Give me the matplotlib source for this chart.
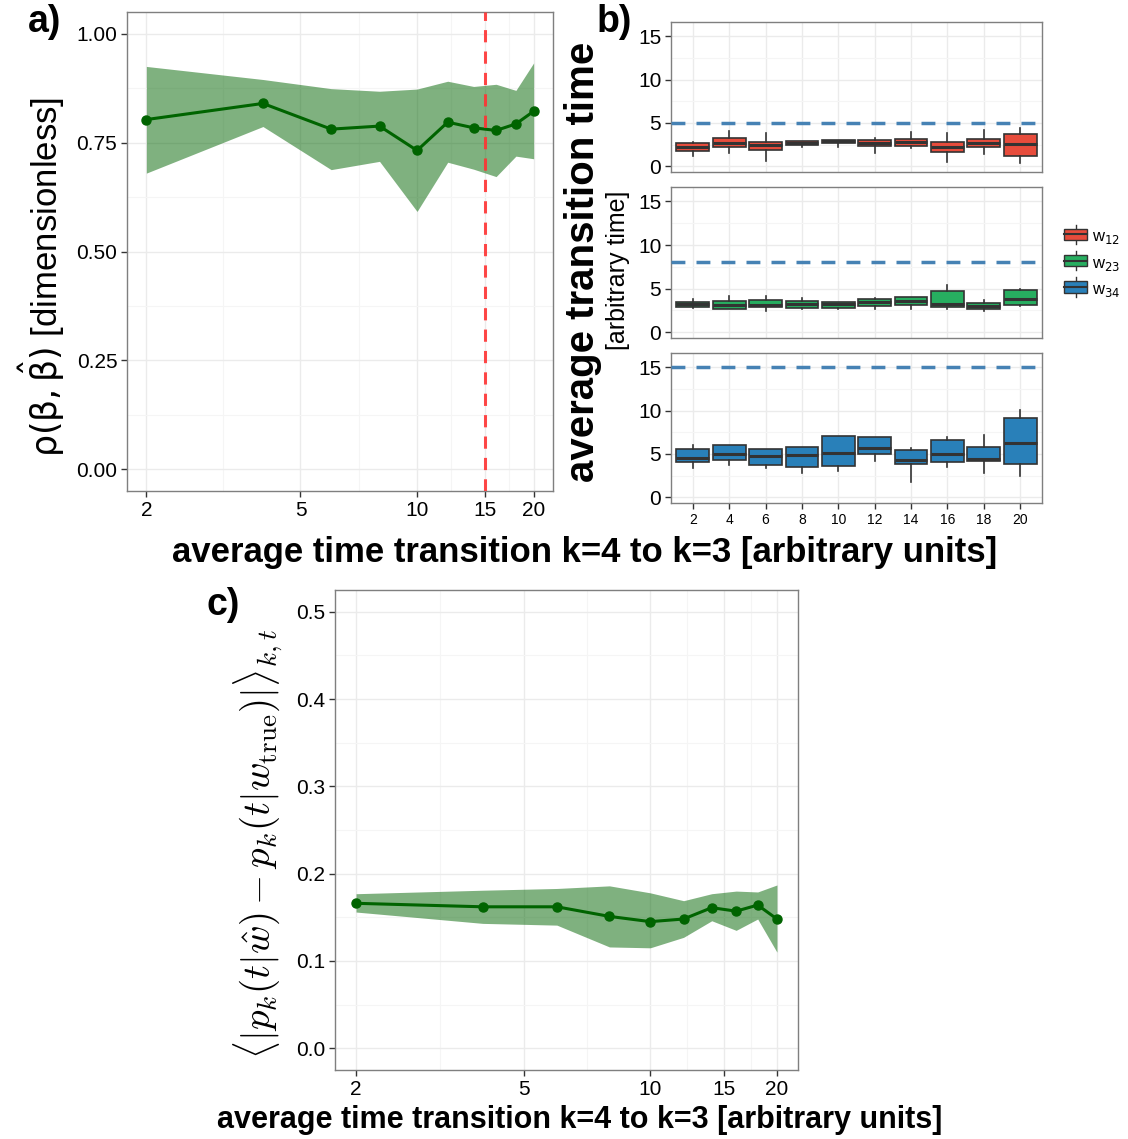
import numpy as np
import matplotlib
matplotlib.use("Agg")
import matplotlib.pyplot as plt
from matplotlib.patches import Rectangle
from matplotlib.lines import Line2D
from matplotlib.legend_handler import HandlerBase
from matplotlib.ticker import FixedLocator, NullFormatter

plt.rcParams['font.family'] = ['Liberation Sans', 'DejaVu Sans']

# ---- data ----
x = [2, 4, 6, 8, 10, 12, 14, 16, 18, 20]

# panel a: correlation rho(beta, beta_hat)
rho_mean = [0.803, 0.840, 0.781, 0.788, 0.732, 0.797, 0.784, 0.778, 0.793, 0.822]
rho_upper = [0.925, 0.895, 0.874, 0.868, 0.873, 0.891, 0.879, 0.884, 0.870, 0.933]
rho_lower = [0.680, 0.787, 0.688, 0.707, 0.592, 0.705, 0.689, 0.672, 0.719, 0.713]
vline_x = 15

# panel b: boxplots per transition (whisker low, q1, median, q3, whisker high)
w12_wlo = [1.17, 1.56, 0.63, 2.27, 2.27, 1.56, 2.15, 0.51, 1.41, 0.39]
w12_q1 = [1.80, 2.19, 1.88, 2.46, 2.66, 2.34, 2.34, 1.64, 2.27, 1.21]
w12_med = [2.19, 2.66, 2.46, 2.70, 2.89, 2.73, 2.81, 2.27, 2.73, 2.62]
w12_q3 = [2.73, 3.32, 2.85, 2.89, 3.09, 3.05, 3.13, 2.85, 3.16, 3.71]
w12_whi = [2.85, 4.10, 3.83, 2.90, 3.09, 3.24, 3.98, 3.83, 4.14, 4.41]

w23_wlo = [2.82, 2.70, 2.47, 2.63, 2.63, 2.70, 2.70, 2.63, 2.47, 2.97]
w23_q1 = [2.94, 2.70, 2.94, 2.78, 2.78, 3.01, 3.17, 2.90, 2.66, 3.13]
w23_med = [3.21, 3.09, 3.09, 3.21, 3.21, 3.48, 3.63, 3.24, 3.01, 3.78]
w23_q3 = [3.48, 3.59, 3.75, 3.55, 3.51, 3.86, 4.02, 4.71, 3.40, 4.86]
w23_whi = [3.86, 4.21, 4.21, 3.94, 3.51, 3.94, 4.02, 5.41, 3.75, 4.94]

w34_wlo = [3.33, 3.68, 3.33, 2.75, 3.06, 4.15, 1.71, 3.45, 2.75, 2.48]
w34_q1 = [4.03, 4.34, 3.76, 3.49, 3.57, 5.00, 3.80, 4.07, 4.22, 3.84]
w34_med = [4.57, 5.00, 4.81, 4.88, 5.08, 5.70, 4.34, 5.04, 4.46, 6.24]
w34_q3 = [5.54, 6.04, 5.62, 5.85, 7.02, 6.90, 5.43, 6.63, 5.85, 9.11]
w34_whi = [6.04, 6.04, 5.62, 5.85, 7.02, 6.90, 5.66, 6.94, 7.21, 10.08]

true_times = [5, 8, 15]
trans_labels = ["w$_{12}$", "w$_{23}$", "w$_{34}$"]
trans_colors = ["#E74C3C", "#27AE60", "#2980B9"]

# panel c: mean abs difference of p_k(t)
d_mean = [0.166, 0.162, 0.162, 0.151, 0.145, 0.148, 0.161, 0.157, 0.164, 0.148]
d_upper = [0.177, 0.181, 0.183, 0.186, 0.178, 0.169, 0.177, 0.180, 0.179, 0.187]
d_lower = [0.156, 0.143, 0.141, 0.116, 0.115, 0.127, 0.146, 0.135, 0.148, 0.110]

# ---- style helpers ----
GRID = "#EBEBEB"
GRID_MINOR = "#F5F5F5"
BORDER = "#7F7F7F"
TICK_FS = 15


def style_axes(ax):
    for s in ax.spines.values():
        s.set_color(BORDER)
        s.set_linewidth(1.0)
    ax.grid(True, which="major", color=GRID, lw=1.0, zorder=0)
    ax.grid(True, which="minor", color=GRID_MINOR, lw=0.8, zorder=0)
    ax.set_axisbelow(True)
    ax.tick_params(which="major", length=4, width=1, color="#333333",
                   labelsize=TICK_FS, labelcolor="black", pad=3)
    ax.tick_params(which="minor", length=0)


def log_x(ax):
    ax.set_xscale("log")
    ax.set_xlim(10 ** (np.log10(2) - 0.05), 10 ** (np.log10(20) + 0.05))
    ax.xaxis.set_major_locator(FixedLocator([2, 5, 10, 15, 20]))
    ax.set_xticklabels(["2", "5", "10", "15", "20"])
    ax.xaxis.set_minor_locator(FixedLocator([np.sqrt(10), np.sqrt(50), np.sqrt(150), np.sqrt(300)]))
    ax.xaxis.set_minor_formatter(NullFormatter())


fig = plt.figure(figsize=(11.28, 11.39), dpi=100)
W, H = 1128, 1139


def px_axes(l, t, r, b):
    return fig.add_axes([l / W, 1 - b / H, (r - l) / W, (b - t) / H])


# ---- panel a ----
ax = px_axes(127, 12, 553, 491)
style_axes(ax)
log_x(ax)
ax.fill_between(x, rho_lower, rho_upper, color="#006400", alpha=0.5, lw=0, zorder=2)
ax.plot(x, rho_mean, color="#006400", lw=2.2, marker="o", ms=6.5, zorder=3)
ax.axvline(vline_x, color="#FF3333", lw=2.2, ls=(0, (4, 3)), alpha=0.9, zorder=4)
ax.set_ylim(-0.05, 1.05)
ax.set_yticks([0, 0.25, 0.5, 0.75, 1.0])
ax.set_yticklabels(["0.00", "0.25", "0.50", "0.75", "1.00"])
ax.yaxis.set_minor_locator(FixedLocator([0.125, 0.375, 0.625, 0.875]))
ax.set_ylabel(r"$\mathrm{\rho(\beta,\hat{\beta})}$ [dimensionless]", fontsize=25,
              math_fontfamily="dejavusans")
ax.yaxis.set_label_coords(-0.14, 0.447)
fig.text(28 / W, 1 - 22 / H, "a)", fontsize=27, fontweight="bold", ha="left", va="center")

# ---- panel b ----
groups = [
    (w12_wlo, w12_q1, w12_med, w12_q3, w12_whi),
    (w23_wlo, w23_q1, w23_med, w23_q3, w23_whi),
    (w34_wlo, w34_q1, w34_med, w34_q3, w34_whi),
]
facet_px = [(22, 172), (187, 338), (353, 503)]
pos = np.arange(1, len(x) + 1)
for i, (g, (t, b)) in enumerate(zip(groups, facet_px)):
    axb = px_axes(671, t, 1042, b)
    style_axes(axb)
    stats = []
    for j in range(len(x)):
        stats.append(dict(whislo=g[0][j], q1=g[1][j], med=g[2][j], q3=g[3][j],
                          whishi=g[4][j], fliers=[]))
    axb.bxp(stats, positions=pos, widths=0.9, patch_artist=True, showcaps=False,
            boxprops=dict(facecolor=trans_colors[i], edgecolor="#333333", lw=1.2),
            medianprops=dict(color="#333333", lw=2.2),
            whiskerprops=dict(color="#333333", lw=1.2), zorder=3)
    axb.axhline(true_times[i], color="#4682B4", lw=2.5, ls=(0, (4, 3.2)), zorder=4)
    axb.set_xlim(0.4, 10.6)
    axb.set_ylim(-0.66, 16.65)
    axb.set_yticks([0, 5, 10, 15])
    axb.yaxis.set_minor_locator(FixedLocator([2.5, 7.5, 12.5]))
    axb.set_xticks(pos)
    if i == 2:
        axb.set_xticklabels([str(v) for v in x], fontsize=10)
    else:
        axb.tick_params(axis="x", length=0, labelbottom=False)

fig.text(583 / W, 1 - 262 / H, "average transition time", fontsize=29, fontweight="bold",
         rotation=90, ha="center", va="center")
fig.text(618 / W, 1 - 270 / H, "[arbitrary time]", fontsize=18, rotation=90,
         ha="center", va="center")
fig.text(597 / W, 1 - 22 / H, "b)", fontsize=27, fontweight="bold", ha="left", va="center")


class BoxKey(HandlerBase):
    def create_artists(self, legend, orig, xd, yd, width, height, fontsize, trans):
        c = orig.get_facecolor()
        r = Rectangle((xd, yd + height * 0.05), width, height * 0.9, facecolor=c,
                      edgecolor="#333333", lw=1.0, transform=trans)
        m = Line2D([xd, xd + width], [yd + height * 0.5] * 2, color="#333333", lw=1.5,
                   transform=trans)
        w1 = Line2D([xd + width / 2] * 2, [yd + height * 0.95, yd + height * 1.25],
                    color="#333333", lw=1.0, transform=trans)
        w2 = Line2D([xd + width / 2] * 2, [yd - height * 0.25, yd + height * 0.05],
                    color="#333333", lw=1.0, transform=trans)
        return [w1, w2, r, m]


handles = [Rectangle((0, 0), 1, 1, facecolor=c) for c in trans_colors]
fig.legend(handles, trans_labels, handler_map={Rectangle: BoxKey()},
           loc="center left", bbox_to_anchor=(1064 / W, 1 - 264 / H), frameon=False,
           fontsize=12, handlelength=1.4, handleheight=0.8, handletextpad=0.3,
           labelspacing=0.55, borderaxespad=0, borderpad=0)

fig.text(585 / W, 1 - 553 / H, "average time transition k=4 to k=3 [arbitrary units]",
         fontsize=25, fontweight="bold", ha="center", va="center")

# ---- panel c ----
axc = px_axes(335, 590, 798, 1070)
style_axes(axc)
log_x(axc)
axc.fill_between(x, d_lower, d_upper, color="#006400", alpha=0.5, lw=0, zorder=2)
axc.plot(x, d_mean, color="#006400", lw=2.2, marker="o", ms=6.5, zorder=3)
axc.set_ylim(-0.025, 0.525)
axc.set_yticks([0, 0.1, 0.2, 0.3, 0.4, 0.5])
axc.set_yticklabels(["0.0", "0.1", "0.2", "0.3", "0.4", "0.5"])
axc.yaxis.set_minor_locator(FixedLocator([0.05, 0.15, 0.25, 0.35, 0.45]))
axc.set_ylabel(r"$\langle|p_k(t|\hat{w}) - p_k(t|w_{\rm true})|\rangle_{k,t}$",
               fontsize=28, math_fontfamily="cm")
axc.yaxis.set_label_coords(-0.108, 0.47)
fig.text(580 / W, 1 - 1120 / H, "average time transition k=4 to k=3 [arbitrary units]",
         fontsize=22, fontweight="bold", ha="center", va="center")
fig.text(207 / W, 1 - 605 / H, "c)", fontsize=27, fontweight="bold", ha="left", va="center")

fig.savefig("out.png", dpi=100)
